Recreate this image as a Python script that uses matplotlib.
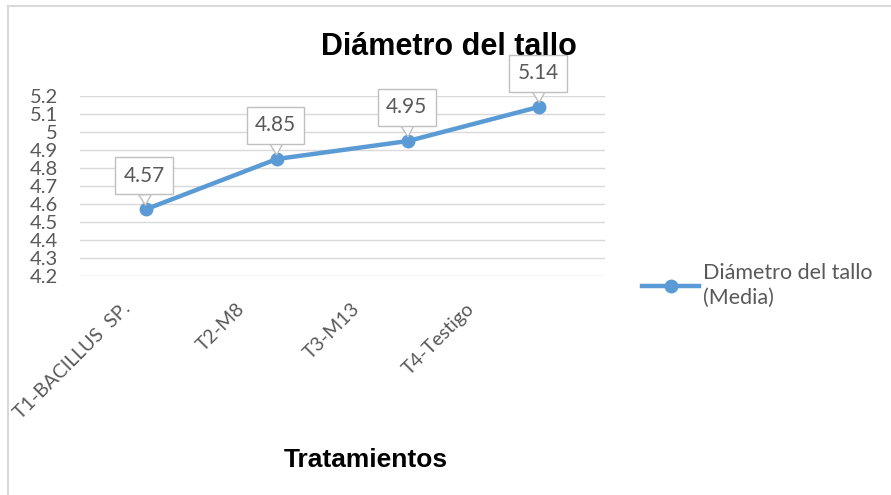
import matplotlib.pyplot as plt
from matplotlib.lines import Line2D

# datos
tratamientos = ['T1-BACILLUS  SP.', 'T2-M8', 'T3-M13', 'T4-Testigo']
diametro = [4.57, 4.85, 4.95, 5.14]
yticks = [4.2, 4.3, 4.4, 4.5, 4.6, 4.7, 4.8, 4.9, 5, 5.1, 5.2]
ytick_labels = ['4.2', '4.3', '4.4', '4.5', '4.6', '4.7', '4.8', '4.9', '5', '5.1', '5.2']

azul = '#5B9BD5'
gris = '#595959'
fuente = 'Lato'

fig = plt.figure(figsize=(8.91, 4.95), dpi=100)
ax = fig.add_axes([80 / 891, (495 - 276) / 495, 525 / 891, 180 / 495])

x = list(range(len(tratamientos)))
ax.plot(x, diametro, color=azul, lw=3.2, marker='o', ms=9, zorder=3)

ax.set_xlim(-0.5, len(tratamientos) - 0.5)
ax.set_ylim(4.2, 5.2)
ax.set_yticks(yticks)
ax.set_yticklabels(ytick_labels, fontsize=14.5, color=gris, family=fuente)
ax.set_xticks(x)
ax.set_xticklabels([])
ax.tick_params(axis='y', length=0, pad=16)
ax.tick_params(axis='x', length=0)
ax.grid(axis='y', color='#D9D9D9', lw=1)
for s in ax.spines.values():
    s.set_visible(False)

# etiquetas del eje x (Excel las deja algo corridas a la izquierda)
for i, lab in enumerate(tratamientos):
    ax.annotate(lab, xy=(i, 0), xycoords=ax.get_xaxis_transform(),
                xytext=(-24 - 16.5 * i, -24), textcoords='offset pixels',
                rotation=45, ha='right', va='top', rotation_mode='anchor',
                fontsize=14, color=gris, family=fuente)

# etiquetas de datos tipo globo
for i, v in enumerate(diametro):
    ax.annotate(f'{v:.2f}', xy=(i, v), xytext=(-1, 17), textcoords='offset points',
                ha='center', va='bottom', fontsize=15, color=gris, family=fuente,
                bbox=dict(boxstyle='square,pad=0.4', fc='white', ec='#BFBFBF', lw=1),
                arrowprops=dict(arrowstyle='wedge,tail_width=0.6', fc='white',
                                ec='#BFBFBF', lw=1, shrinkA=0, shrinkB=3),
                zorder=4)

fig.text(449 / 891, 1 - 47 / 495, 'Diámetro del tallo', ha='center', va='center',
         fontsize=22, fontweight='bold', family='Liberation Sans')
fig.text(366 / 891, 1 - 460 / 495, 'Tratamientos', ha='center', va='center',
         fontsize=19, fontweight='bold', family='Liberation Sans')

handle = Line2D([], [], color=azul, lw=3.2, marker='o', ms=9)
leg = fig.legend([handle], ['Diámetro del tallo\n(Media)'], loc='upper left',
                 bbox_to_anchor=(623 / 891, 1 - 244 / 495), frameon=False,
                 prop={'family': fuente, 'size': 15.5}, labelcolor=gris,
                 handlelength=2.65, handletextpad=0.15)
for t in leg.get_texts():
    t.set_linespacing(1.3)

# borde del grafico
fig.add_artist(Line2D([8 / 891, 8 / 891], [0, 1 - 6 / 495], color='#D9D9D9', lw=1.5))
fig.add_artist(Line2D([8 / 891, 1], [1 - 6 / 495, 1 - 6 / 495], color='#D9D9D9', lw=1.5))

fig.savefig('out.png', dpi=100)
